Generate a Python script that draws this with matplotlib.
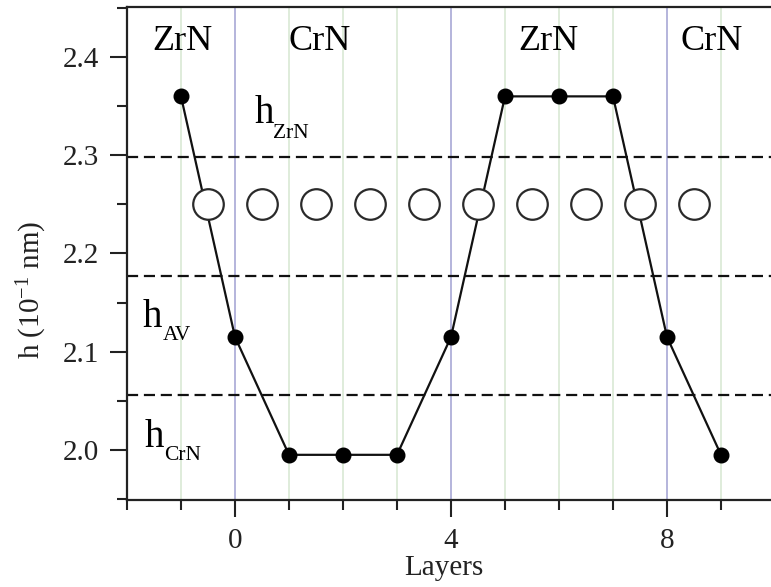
import matplotlib
matplotlib.use("Agg")
import matplotlib.pyplot as plt
from matplotlib.ticker import MultipleLocator

plt.rcParams['font.family'] = ['Liberation Serif', 'DejaVu Serif']
plt.rcParams['mathtext.fontset'] = 'custom'
plt.rcParams['mathtext.rm'] = 'Liberation Serif'
plt.rcParams['mathtext.it'] = 'Liberation Serif:italic'

# ---- data ----
layers = [-1, 0, 1, 2, 3, 4, 5, 6, 7, 8, 9]
h_values = [2.36, 2.115, 1.995, 1.995, 1.995, 2.115, 2.36, 2.36, 2.36, 2.115, 1.995]
atom_x = [-0.5, 0.5, 1.5, 2.5, 3.5, 4.5, 5.5, 6.5, 7.5, 8.5]
atom_y = [2.25] * len(atom_x)
h_levels = [2.298, 2.177, 2.056]
level_names = ["ZrN", "AV", "CrN"]
boundary_x = [0, 4, 8]
grid_x = [-1, 1, 2, 3, 5, 6, 7, 9]
region_labels = ["ZrN", "CrN", "ZrN", "CrN"]
region_centers = [-0.97, 1.57, 5.8, 8.83]

fig = plt.figure(figsize=(7.71, 5.87), dpi=100)
ax = fig.add_axes([127/771, 1-500/587, 644/771, 493/587])
ax.set_xlim(-2, 9.926)
ax.set_ylim(1.949, 2.451)

for xv in grid_x:
    ax.axvline(xv, color='#dcebd8', lw=1.3, zorder=0)
for xv in boundary_x:
    ax.axvline(xv, color='#b4b4dc', lw=1.4, zorder=0)

for yv in h_levels:
    ax.axhline(yv, color='#111111', lw=1.6, ls=(0, (5, 2.6)), zorder=1)

ax.plot(layers, h_values, color='#111111', lw=1.6, zorder=2)
ax.plot(atom_x, atom_y, ls='none', marker='o', ms=22, mfc='white',
        mec='#2a2a2a', mew=1.6, zorder=3)
ax.plot(layers, h_values, ls='none', marker='o', ms=10.5, mfc='black',
        mec='black', zorder=4)

for lab, cx in zip(region_labels, region_centers):
    ax.text(cx, 2.407, lab, ha='center', va='baseline', fontsize=26, zorder=5)

# h labels
h_pos = [(0.37, 2.333, 0.71, 2.3176),
         (-1.704, 2.1252, -1.34, 2.112),
         (-1.667, 2.003, -1.32, 1.990)]
for name, (hx, hy, sx, sy) in zip(level_names, h_pos):
    ax.text(hx, hy, "h", fontsize=28, va='baseline', ha='left', zorder=5)
    ax.text(sx, sy, name, fontsize=15.5, va='baseline', ha='left', zorder=5)

ax.xaxis.set_major_locator(MultipleLocator(4))
ax.xaxis.set_minor_locator(MultipleLocator(1))
ax.yaxis.set_major_locator(MultipleLocator(0.1))
ax.yaxis.set_minor_locator(MultipleLocator(0.05))
ax.yaxis.set_major_formatter(plt.FuncFormatter(lambda v, p: f"{v:.1f}"))

ax.tick_params(which='major', direction='out', length=12, width=1.5,
               labelsize=21, colors='#222222')
ax.tick_params(which='minor', direction='out', length=7, width=1.5,
               colors='#222222')
ax.tick_params(axis='x', which='major', pad=8)
ax.tick_params(axis='y', which='major', pad=8)

for s in ['left', 'bottom', 'top']:
    ax.spines[s].set_linewidth(1.6)
    ax.spines[s].set_color('#222222')
ax.spines['right'].set_visible(False)

ax.set_xlabel("Layers", fontsize=21, color='#222222')
ax.xaxis.label.set_va('baseline')
ax.xaxis.set_label_coords((444-127)/644, -(575-500)/493)
ax.set_ylabel(r"h (10$^{-1}$ nm)", fontsize=21, color='#222222')
ax.yaxis.label.set_va('center')
ax.yaxis.set_label_coords((32-127)/644, 1-(290-7)/493)

fig.savefig("out.png", dpi=100)
